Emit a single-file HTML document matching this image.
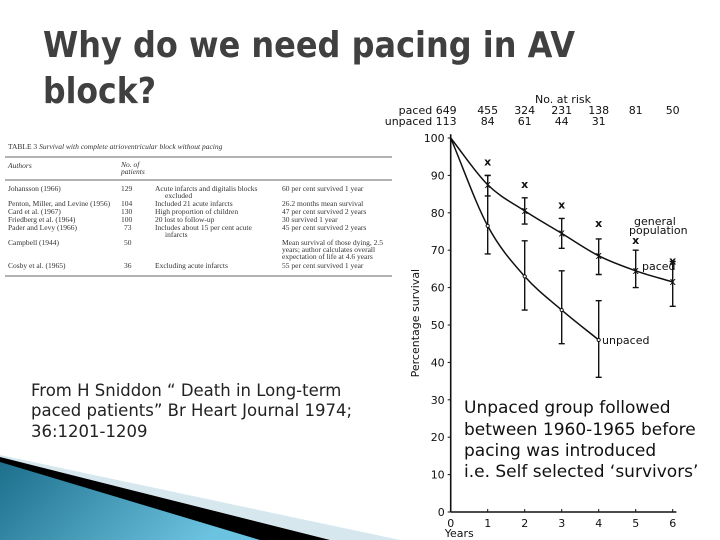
<!DOCTYPE html>
<html><head><meta charset="utf-8"><style>
html,body{margin:0;padding:0;background:#fff;width:720px;height:540px;overflow:hidden}
svg{display:block}
.tb{font-family:"Liberation Serif",serif;font-size:7.5px;fill:#333}
.ax{font-family:"DejaVu Sans","Liberation Sans",sans-serif;font-size:11px;fill:#111}
</style></head><body>
<svg id="slide" width="720" height="540" viewBox="0 0 720 540" xmlns="http://www.w3.org/2000/svg">
<defs>
<linearGradient id="tg" x1="0" y1="0" x2="1" y2="0.3"><stop offset="0" stop-color="#1d6f8c"/><stop offset="1" stop-color="#6cc3df"/></linearGradient>
</defs>
<g>
<polygon points="0,455 400,540 0,540" fill="#d6e8ee"/>
<polygon points="0,457 330,540 0,540" fill="#000"/>
<polygon points="0,462 260,540 0,540" fill="url(#tg)"/>
</g>
<g font-family="'DejaVu Sans','Liberation Sans',sans-serif" font-weight="bold" font-size="36" fill="#404040">
<text x="43" y="57" textLength="532" lengthAdjust="spacingAndGlyphs">Why do we need pacing in AV</text>
<text x="43" y="103" textLength="113" lengthAdjust="spacingAndGlyphs">block?</text>
</g>
<g>
<text class="tb" x="8" y="149" font-size="6.5">TABLE 3 <tspan font-style="italic">Survival with complete atrioventricular block without pacing</tspan></text>
<line x1="5" y1="157" x2="392" y2="157" stroke="#333" stroke-width="0.8"/>
<text class="tb" x="8" y="168" font-style="italic">Authors</text>
<text class="tb" x="121" y="167" font-style="italic">No. of</text>
<text class="tb" x="121" y="174" font-style="italic">patients</text>
<line x1="5" y1="180" x2="392" y2="180" stroke="#333" stroke-width="0.8"/>
<text class="tb" x="8" y="191">Johansson (1966)</text><text class="tb" x="121" y="191">129</text><text class="tb" x="155" y="191">Acute infarcts and digitalis blocks</text><text class="tb" x="165" y="198">excluded</text><text class="tb" x="282" y="191">60 per cent survived 1 year</text>
<text class="tb" x="8" y="206">Penton, Miller, and Levine (1956)</text><text class="tb" x="121" y="206">104</text><text class="tb" x="155" y="206">Included 21 acute infarcts</text><text class="tb" x="282" y="206">26.2 months mean survival</text>
<text class="tb" x="8" y="214">Card et al. (1967)</text><text class="tb" x="121" y="214">130</text><text class="tb" x="155" y="214">High proportion of children</text><text class="tb" x="282" y="214">47 per cent survived 2 years</text>
<text class="tb" x="8" y="222">Friedberg et al. (1964)</text><text class="tb" x="121" y="222">100</text><text class="tb" x="155" y="222">20 lost to follow-up</text><text class="tb" x="282" y="222">30 survived 1 year</text>
<text class="tb" x="8" y="230">Pader and Levy (1966)</text><text class="tb" x="124" y="230">73</text><text class="tb" x="155" y="230">Includes about 15 per cent acute</text><text class="tb" x="165" y="237">infarcts</text><text class="tb" x="282" y="230">45 per cent survived 2 years</text>
<text class="tb" x="8" y="245">Campbell (1944)</text><text class="tb" x="124" y="245">50</text><text class="tb" x="282" y="245">Mean survival of those dying, 2.5</text><text class="tb" x="282" y="252">years; author calculates overall</text><text class="tb" x="282" y="259">expectation of life at 4.6 years</text>
<text class="tb" x="8" y="268">Cosby et al. (1965)</text><text class="tb" x="124" y="268">36</text><text class="tb" x="155" y="268">Excluding acute infarcts</text><text class="tb" x="282" y="268">55 per cent survived 1 year</text>
<line x1="5" y1="276" x2="392" y2="276" stroke="#333" stroke-width="0.8"/>
</g>
<g font-family="'DejaVu Sans',sans-serif" font-size="16.5" fill="#222">
<text x="31" y="396">From H Sniddon “ Death in Long-term</text>
<text x="31" y="416">paced patients” Br Heart Journal 1974;</text>
<text x="31" y="437">36:1201-1209</text>
</g>
<g id="chart"></g>
<g font-family="'DejaVu Sans',sans-serif" font-size="17" fill="#111">
<text x="464" y="413">Unpaced group followed</text>
<text x="464" y="435">between 1960-1965 before</text>
<text x="464" y="456">pacing was introduced</text>
<text x="464" y="477">i.e. Self selected ‘survivors’</text>
</g>
</svg>
<script>
const years=[0,1,2,3,4,5,6];
const yTicks=[0,10,20,30,40,50,60,70,80,90,100];
const pacedMean=[100,87.5,80.5,74.5,68.5,64.5,61.5];
const pacedLow=[null,84.5,77,70.5,63.5,60,55];
const pacedHigh=[null,90,84,78.5,73,70,67];
const unpacedMean=[100,76.5,63,54,46];
const unpacedLow=[null,69,54,45,36];
const unpacedHigh=[null,90,72.5,64.5,56.5];
const generalPop=[null,93.5,87.5,82,77,72.5,67];
const riskPaced=["649","455","324","231","138","81","50"];
const riskUnpaced=["113","84","61","44","31"];

const NS="http://www.w3.org/2000/svg";
const g=document.getElementById('chart');
const X=v=>450.7+v*37;
const Y=v=>512-v*3.74;
function mk(tag,attrs,txt){const e=document.createElementNS(NS,tag);for(const k in attrs)e.setAttribute(k,attrs[k]);if(txt!=null)e.textContent=txt;g.appendChild(e);return e;}
let e;
e=mk('line',{x1:X(0),y1:Y(0),x2:X(0),y2:Y(101),stroke:'#111','stroke-width':1.6});


e=mk('line',{x1:X(0),y1:Y(0),x2:X(6.1),y2:Y(0),stroke:'#111','stroke-width':1.6});


yTicks.forEach(t=>{
 e=mk('text',{x:X(0)-6,y:Y(t)+4,'text-anchor':'end',class:'ax'},String(t));
 
 
 mk('line',{x1:X(0)-3,y1:Y(t),x2:X(0),y2:Y(t),stroke:'#111'});
});
years.forEach(t=>{
 e=mk('text',{x:X(t),y:Y(0)+15,'text-anchor':'middle',class:'ax','font-size':10},String(t));
 
 
 if(t>0)mk('line',{x1:X(t),y1:Y(0),x2:X(t),y2:Y(0)-3,stroke:'#111'});
});
e=mk('text',{x:X(0)-6,y:Y(0)+25,class:'ax','font-size':8},'Years');


e=mk('text',{x:0,y:0,class:'ax','font-size':9,transform:`translate(419,${Y(36)}) rotate(-90)`},'Percentage survival');


e=mk('text',{x:535,y:103,class:'ax','font-size':10},'No. at risk');


riskPaced.forEach((r,i)=>{
 e=mk('text',{x:i==0?X(0)+6:X(i),y:114,'text-anchor':i==0?'end':'middle',class:'ax','font-size':10},i==0?'paced '+r:r);
 
 
});
riskUnpaced.forEach((r,i)=>{
 e=mk('text',{x:i==0?X(0)+6:X(i),y:125,'text-anchor':i==0?'end':'middle',class:'ax','font-size':10},i==0?'unpaced '+r:r);
 
 
});
function smooth(arr){const p=arr.map((v,i)=>[X(years[i]),Y(v)]);let d='M'+p[0];for(let i=0;i<p.length-1;i++){const p0=i>0?p[i-1]:[2*p[0][0]-p[1][0],2*p[0][1]-p[1][1]],p1=p[i],p2=p[i+1],p3=p[i+2]||[2*p2[0]-p1[0],2*p2[1]-p1[1]];d+=`C${p1[0]+(p2[0]-p0[0])/6},${p1[1]+(p2[1]-p0[1])/6} ${p2[0]-(p3[0]-p1[0])/6},${p2[1]-(p3[1]-p1[1])/6} ${p2[0]},${p2[1]}`;}return d;}
e=mk('path',{d:smooth(pacedMean),fill:'none',stroke:'#111','stroke-width':1.5});


e=mk('path',{d:smooth(unpacedMean),fill:'none',stroke:'#111','stroke-width':1.5});


function bars(lo,hi,name){lo.forEach((l,i)=>{if(l==null)return;const x=X(years[i]);
 e=mk('path',{d:`M${x},${Y(l)}V${Y(hi[i])}M${x-3},${Y(l)}h6M${x-3},${Y(hi[i])}h6`,stroke:'#111','stroke-width':1.4,fill:'none'});
 
 });}
bars(pacedLow,pacedHigh,'paced-error-bar');
bars(unpacedLow,unpacedHigh,'unpaced-error-bar');
pacedMean.forEach((v,i)=>{if(!i)return;e=mk('text',{x:X(i),y:Y(v)+3,'text-anchor':'middle',class:'ax','font-size':8},'x');
 
 });
unpacedMean.forEach((v,i)=>{if(!i)return;e=mk('circle',{cx:X(i),cy:Y(v),r:1.6,fill:'#fff',stroke:'#111'});
 
 });
generalPop.forEach((v,i)=>{if(v==null)return;e=mk('text',{x:X(i),y:Y(v)+3,'text-anchor':'middle',class:'ax','font-size':9,'font-weight':'bold'},'x');
 
 });
e=mk('text',{x:634,y:225,class:'ax','font-size':9},'general');


mk('text',{x:629,y:234,class:'ax','font-size':9},'population');
e=mk('text',{x:642,y:270,class:'ax','font-size':9},'paced');


e=mk('text',{x:602,y:344,class:'ax','font-size':8},'unpaced');


</script>
</body></html>
